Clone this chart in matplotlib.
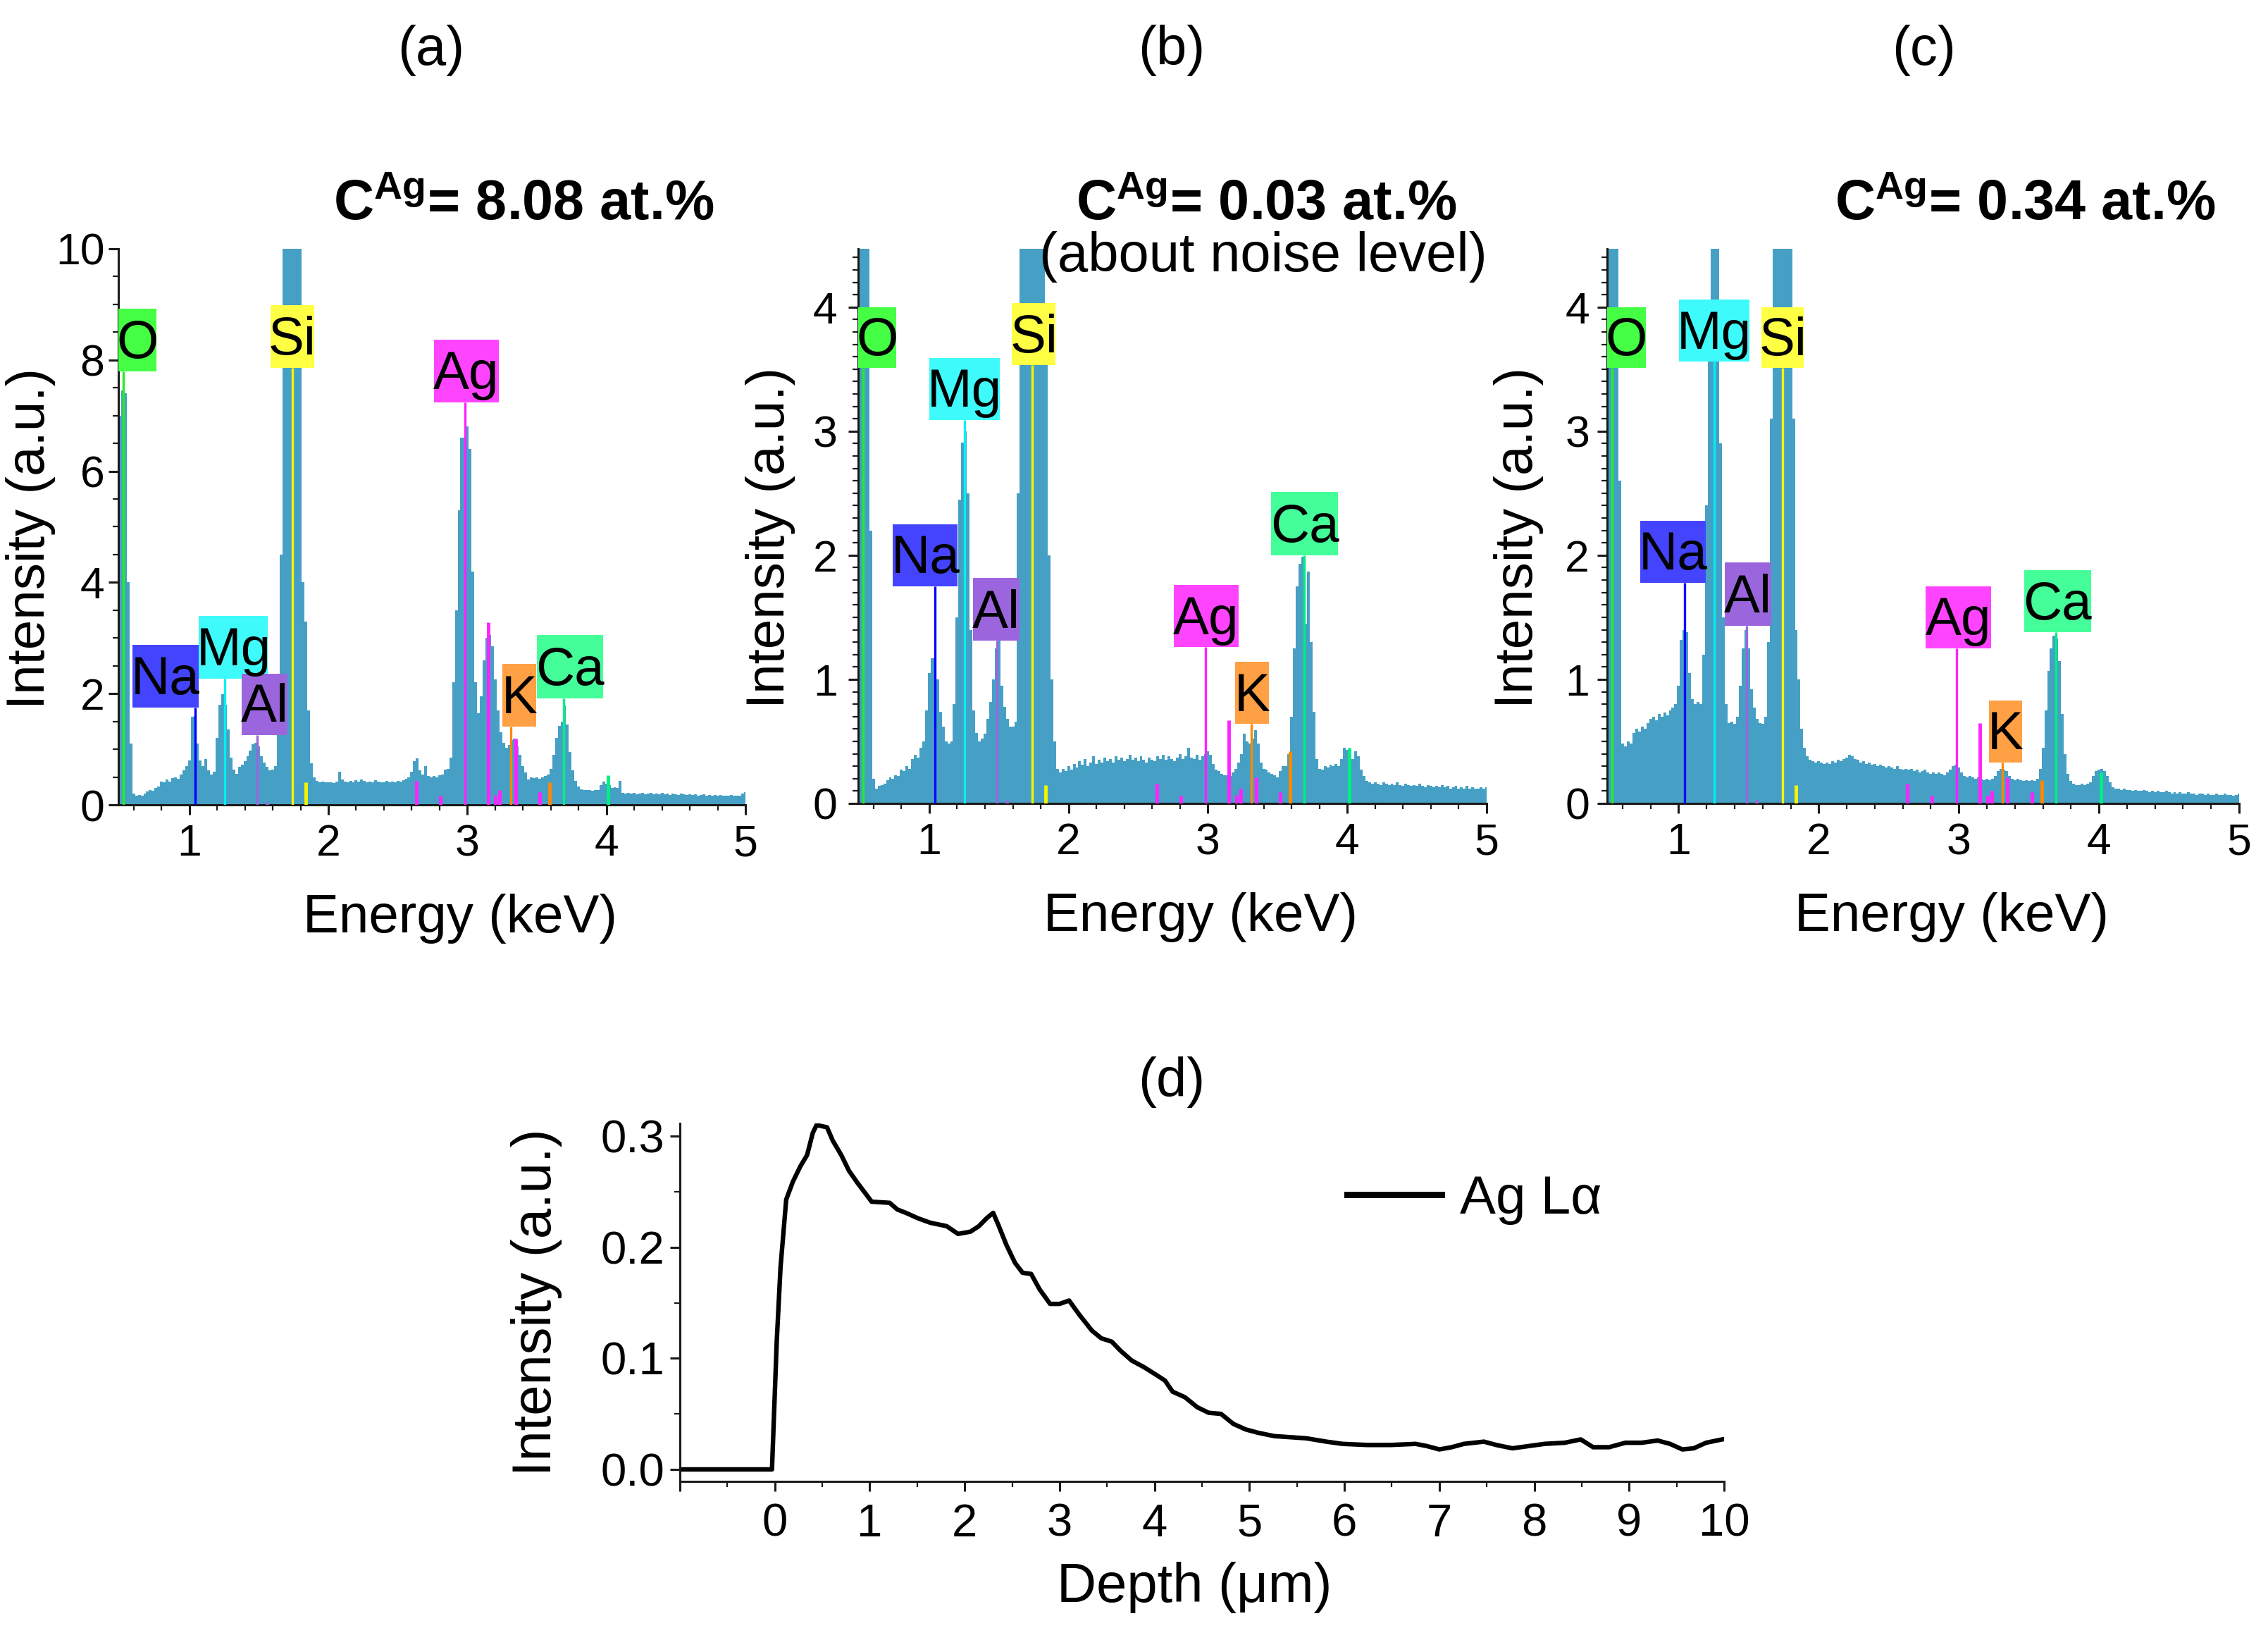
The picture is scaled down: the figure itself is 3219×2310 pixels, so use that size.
import numpy as np
import matplotlib
matplotlib.use('Agg')
import matplotlib.pyplot as plt
from matplotlib.patches import Rectangle
from matplotlib.ticker import MultipleLocator, FixedLocator, FuncFormatter

plt.rcParams['font.family'] = ['Liberation Sans', 'DejaVu Sans']
plt.rcParams['mathtext.fontset'] = 'custom'
plt.rcParams['mathtext.rm'] = 'Liberation Sans'
plt.rcParams['mathtext.bf'] = 'Liberation Sans:bold'
plt.rcParams['mathtext.it'] = 'Liberation Sans:italic'

# ---------------- data ----------------
E_START = 0.50   # keV, first channel
E_STEP = 0.02    # keV per channel

spec_a = [
    7.0, 7.45, 7.4, 4.0, 1.1, 0.2, 0.17, 0.18, 0.17, 0.2,
    0.24, 0.27, 0.25, 0.3, 0.33, 0.42, 0.4, 0.45, 0.42, 0.48,
    0.5, 0.47, 0.55, 0.62, 0.7, 0.8, 1.58, 1.6, 1.1, 0.8,
    0.7, 0.83, 0.62, 0.55, 0.6, 1.2, 1.8, 1.99, 1.8, 1.36,
    0.85, 0.63, 0.56, 0.68, 0.72, 0.78, 0.88, 0.98, 1.09, 1.12,
    1.05, 0.88, 0.76, 0.68, 0.62, 0.63, 0.7, 1.5, 4.5, 12,
    12, 12, 12, 12, 12, 12, 4.0, 3.3, 1.7, 0.75,
    0.5, 0.43, 0.4, 0.42, 0.4, 0.41, 0.4, 0.39, 0.42, 0.6,
    0.45, 0.42, 0.4, 0.43, 0.41, 0.44, 0.42, 0.45, 0.43, 0.4,
    0.42, 0.41, 0.44, 0.42, 0.4, 0.41, 0.43, 0.4, 0.42, 0.41,
    0.43, 0.42, 0.44, 0.47, 0.5, 0.6, 0.78, 0.84, 0.62, 0.55,
    0.7, 0.52, 0.5, 0.52, 0.5, 0.53, 0.55, 0.63, 0.65, 0.85,
    2.2, 3.5, 5.3, 6.6, 6.6, 6.8, 6.4, 4.2, 2.2, 1.65,
    1.95, 2.6, 3.0, 3.05, 2.85, 2.25, 1.7, 1.3, 1.12, 1.03,
    1.08, 1.16, 1.19, 1.05, 0.9, 0.7, 0.58, 0.45, 0.5, 0.48,
    0.5, 0.47, 0.5, 0.52, 0.55, 0.65, 0.9, 1.2, 1.42, 1.5,
    1.79, 1.45, 0.95, 0.62, 0.43, 0.33, 0.28, 0.27, 0.26, 0.27,
    0.25, 0.26, 0.27, 0.35, 0.42, 0.38, 0.36, 0.3, 0.32, 0.3,
    0.43, 0.22, 0.2, 0.21, 0.2, 0.21, 0.19, 0.2, 0.21, 0.19,
    0.2, 0.22, 0.19, 0.2, 0.19, 0.21, 0.19, 0.2, 0.18, 0.2,
    0.19, 0.18, 0.2, 0.19, 0.18, 0.19, 0.18, 0.19, 0.17, 0.18,
    0.19, 0.17, 0.18, 0.17, 0.18, 0.17, 0.18, 0.17, 0.16, 0.17,
    0.18, 0.17, 0.16, 0.17, 0.2, 0.23,
]

spec_b = [
    6, 6, 6, 6, 2.2, 0.2, 0.12, 0.14, 0.15, 0.16,
    0.19, 0.21, 0.2, 0.23, 0.22, 0.27, 0.26, 0.3, 0.28, 0.36,
    0.39, 0.37, 0.45, 0.5, 0.75, 1.05, 1.17, 1.17, 1.0, 0.74,
    0.62, 0.5, 0.48, 0.5, 0.8, 1.5, 2.45, 2.91, 3.0, 2.5,
    1.4, 0.75, 0.57, 0.5, 0.52, 0.56, 0.68, 0.82, 1.0, 1.25,
    1.31, 0.95, 0.78, 0.68, 0.62, 0.62, 0.66, 2.5, 6, 6,
    6, 6, 6, 6, 6, 6, 6, 3.6, 2.0, 1.0,
    0.5, 0.28, 0.25, 0.28, 0.26, 0.3, 0.27, 0.32, 0.29, 0.34,
    0.31, 0.36, 0.3, 0.33, 0.38, 0.32, 0.35, 0.33, 0.37, 0.34,
    0.36, 0.33, 0.38, 0.35, 0.37, 0.34, 0.36, 0.39, 0.35, 0.37,
    0.34, 0.38, 0.35, 0.33, 0.37, 0.35, 0.34, 0.38, 0.36, 0.39,
    0.35, 0.38, 0.36, 0.34, 0.37, 0.4, 0.36, 0.38, 0.45, 0.37,
    0.36, 0.39, 0.35, 0.38, 0.4, 0.42, 0.39, 0.32, 0.27, 0.26,
    0.24, 0.23, 0.23, 0.22, 0.25, 0.28, 0.33, 0.4, 0.56, 0.5,
    0.48, 0.52, 0.59, 0.48, 0.33, 0.28, 0.27, 0.25, 0.24, 0.23,
    0.21, 0.26, 0.3, 0.3, 0.4, 0.7, 1.25, 1.75, 1.93, 1.99,
    1.45, 1.87, 1.3, 0.74, 0.36, 0.28, 0.27, 0.3, 0.29, 0.31,
    0.3, 0.32, 0.3, 0.36, 0.45, 0.43, 0.42, 0.36, 0.42, 0.38,
    0.27, 0.22, 0.18, 0.17, 0.16, 0.17, 0.16, 0.15, 0.17, 0.16,
    0.15, 0.16, 0.15, 0.17, 0.15, 0.14, 0.16, 0.15, 0.14, 0.15,
    0.14, 0.16, 0.14, 0.13, 0.15, 0.14, 0.13, 0.14, 0.13, 0.15,
    0.13, 0.14, 0.12, 0.13, 0.14, 0.12, 0.13, 0.12, 0.14, 0.12,
    0.13, 0.12, 0.12, 0.13, 0.12, 0.13,
]

spec_c = [
    6, 6, 6, 6, 2.6, 0.48, 0.46, 0.5, 0.48, 0.57,
    0.6, 0.58, 0.62, 0.6, 0.65, 0.68, 0.7, 0.67, 0.72, 0.7,
    0.73, 0.71, 0.75, 0.77, 0.8, 0.95, 1.32, 1.4, 1.38, 1.05,
    0.84, 0.8, 0.82, 0.8, 1.2, 2.4, 4.0, 6, 6, 6,
    2.9, 1.5, 0.8, 0.65, 0.66, 0.64, 0.7, 0.95, 1.25, 1.4,
    1.25, 0.92, 0.77, 0.68, 0.65, 0.64, 0.7, 1.3, 3.1, 6,
    6, 6, 6, 6, 6, 6, 3.1, 1.4, 1.0, 0.6,
    0.45, 0.38, 0.35, 0.34, 0.33, 0.34, 0.33, 0.32, 0.33, 0.32,
    0.34, 0.33, 0.35, 0.34, 0.36, 0.37, 0.39, 0.38, 0.36, 0.35,
    0.33, 0.34, 0.32, 0.33, 0.31, 0.32, 0.3, 0.31, 0.3, 0.29,
    0.3, 0.29, 0.28, 0.3, 0.28, 0.27, 0.28, 0.27, 0.28, 0.26,
    0.27, 0.25, 0.26, 0.27, 0.25, 0.24, 0.25, 0.24, 0.25, 0.24,
    0.23, 0.25, 0.27, 0.3, 0.31, 0.29, 0.25, 0.22, 0.21, 0.22,
    0.21, 0.2, 0.21, 0.2, 0.19, 0.2, 0.19, 0.2, 0.22, 0.26,
    0.28, 0.27, 0.26, 0.22, 0.2, 0.19, 0.2, 0.19, 0.18, 0.19,
    0.18, 0.19, 0.18, 0.2, 0.28, 0.45, 0.75, 1.07, 1.25, 1.35,
    1.33, 1.15, 0.72, 0.4, 0.24, 0.18, 0.16, 0.15, 0.15, 0.16,
    0.15, 0.16, 0.17, 0.22, 0.26, 0.27, 0.28, 0.26, 0.22, 0.17,
    0.13, 0.12, 0.12, 0.11, 0.12, 0.11, 0.11, 0.1, 0.11, 0.1,
    0.1, 0.11, 0.1, 0.09, 0.1, 0.09, 0.1, 0.09, 0.09, 0.1,
    0.09, 0.08, 0.09, 0.08, 0.09, 0.08, 0.08, 0.09, 0.08, 0.08,
    0.07, 0.08, 0.08, 0.07, 0.08, 0.07, 0.07, 0.08, 0.07, 0.07,
    0.08, 0.07, 0.07, 0.06, 0.07, 0.08,
]

# labelled characteristic lines
elements = ['O', 'Na', 'Mg', 'Al', 'Si', 'Ag', 'K', 'Ca']
element_keV = [0.525, 1.041, 1.254, 1.487, 1.740, 2.984, 3.313, 3.691]

# unlabelled (secondary) lines and their heights per panel
minor_keV = [1.557, 1.836, 2.634, 2.806, 3.151, 3.203, 3.234, 3.348, 3.520, 3.590, 4.013]
minor_el = ['Al', 'Si', 'Ag', 'Ag', 'Ag', 'Ag', 'Ag', 'Ag', 'Ag', 'K', 'Ca']
minor_h_a = [0.05, 0.4, 0.43, 0.17, 3.28, 0.18, 0.26, 1.19, 0.23, 0.4, 0.53]
minor_h_b = [0.03, 0.15, 0.16, 0.06, 0.67, 0.07, 0.12, 0.21, 0.09, 0.42, 0.45]
minor_h_c = [0.03, 0.15, 0.16, 0.06, 0.65, 0.06, 0.10, 0.21, 0.09, 0.19, 0.25]

conc_labels = ['8.08', '0.03', '0.34']

# depth profile (d)
depth_um = [-1.0, -0.03, 0.02, 0.06, 0.12, 0.19, 0.27, 0.34, 0.40, 0.44, 0.55, 0.61,
            0.70, 0.78, 0.87, 0.95, 1.02, 1.21, 1.29, 1.38, 1.51, 1.64, 1.81, 1.93,
            2.06, 2.15, 2.23, 2.30, 2.36, 2.44, 2.53, 2.61, 2.70, 2.79, 2.90, 3.00,
            3.10, 3.21, 3.34, 3.44, 3.55, 3.64, 3.76, 3.89, 4.02, 4.11, 4.19, 4.32,
            4.45, 4.57, 4.70, 4.83, 4.96, 5.09, 5.26, 5.43, 5.60, 5.81, 5.98, 6.24,
            6.49, 6.75, 6.87, 7.00, 7.13, 7.26, 7.47, 7.60, 7.77, 7.94, 8.11, 8.32,
            8.49, 8.62, 8.79, 8.96, 9.13, 9.30, 9.43, 9.56, 9.68, 9.81, 9.98]
ag_la = [0.0, 0.0, 0.115, 0.182, 0.243, 0.259, 0.273, 0.283, 0.303, 0.310, 0.308, 0.296,
         0.283, 0.269, 0.258, 0.249, 0.241, 0.240, 0.234, 0.231, 0.226, 0.222, 0.219, 0.212,
         0.214, 0.219, 0.226, 0.231, 0.219, 0.202, 0.186, 0.177, 0.176, 0.162, 0.149, 0.149,
         0.152, 0.139, 0.125, 0.118, 0.115, 0.107, 0.098, 0.092, 0.085, 0.080, 0.070, 0.065,
         0.056, 0.051, 0.050, 0.041, 0.036, 0.033, 0.030, 0.029, 0.028, 0.025, 0.023, 0.022,
         0.022, 0.023, 0.021, 0.018, 0.020, 0.023, 0.025, 0.022, 0.019, 0.021, 0.023, 0.024,
         0.027, 0.020, 0.020, 0.024, 0.024, 0.026, 0.023, 0.018, 0.019, 0.024, 0.027]

# ---------------- styles ----------------
SPEC_COLOR = '#46A0C5'
box_color = {'O': '#44FF44', 'Na': '#4444FF', 'Mg': '#3EFAFA', 'Al': '#9B66DD',
             'Si': '#FFFF44', 'Ag': '#FF44FF', 'K': '#FFA045', 'Ca': '#44FF99'}
line_color = {'O': '#22EE22', 'Na': '#0000FF', 'Mg': '#00F0F0', 'Al': '#9B66DD',
              'Si': '#F5F500', 'Ag': '#FF22FF', 'K': '#FF8800', 'Ca': '#00F080'}

# label boxes (x0, x1, y0, y1) in data units, per panel
boxes_a = {'O': (0.488, 0.766, 7.80, 8.92), 'Si': (1.583, 1.899, 7.86, 8.99),
           'Na': (0.593, 1.066, 1.75, 2.88), 'Mg': (1.070, 1.566, 2.27, 3.40),
           'Al': (1.376, 1.706, 1.26, 2.36), 'Ag': (2.758, 3.224, 7.24, 8.36),
           'K': (3.252, 3.495, 1.41, 2.54), 'Ca': (3.498, 3.977, 1.92, 3.05)}
boxes_b = {'O': (0.491, 0.765, 3.51, 4.00), 'Si': (1.592, 1.907, 3.53, 4.03),
           'Na': (0.738, 1.204, 1.75, 2.25), 'Mg': (1.001, 1.508, 3.09, 3.59),
           'Al': (1.315, 1.646, 1.31, 1.82), 'Ag': (2.754, 3.219, 1.26, 1.76),
           'K': (3.194, 3.439, 0.64, 1.14), 'Ca': (3.454, 3.932, 2.00, 2.51)}
boxes_c = {'O': (0.489, 0.767, 3.51, 4.00), 'Si': (1.593, 1.894, 3.51, 4.00),
           'Na': (0.725, 1.192, 1.78, 2.28), 'Mg': (1.002, 1.507, 3.56, 4.06),
           'Al': (1.330, 1.660, 1.43, 1.94), 'Ag': (2.762, 3.228, 1.25, 1.75),
           'K': (3.216, 3.449, 0.33, 0.83), 'Ca': (3.467, 3.943, 1.38, 1.88)}

W, H = 3219, 2310
fig = plt.figure(figsize=(W / 100, H / 100), dpi=100)


def fig_rect(left, right, top, bottom):
    return [left / W, 1 - bottom / H, (right - left) / W, (bottom - top) / H]


SPINE = '#1a1a1a'


def style(ax, labelsize, ypad):
    for s in ['top', 'right']:
        ax.spines[s].set_visible(False)
    for s in ['left', 'bottom']:
        ax.spines[s].set_linewidth(2.2)
        ax.spines[s].set_color(SPINE)
    ax.tick_params(which='major', direction='out', length=10, width=2.2,
                   labelsize=labelsize, color=SPINE)
    ax.tick_params(which='minor', direction='out', length=5.5, width=1.6, color=SPINE)
    ax.tick_params(axis='y', which='major', pad=ypad)
    ax.tick_params(axis='x', which='major', pad=9)


def draw_spectrum(ax, intensity, boxes, minor_h, ymax, ymajor, yminor, ypad):
    n = len(intensity)
    edges = E_START - E_STEP / 2 + E_STEP * np.arange(n + 1)
    ax.stairs(intensity, edges, baseline=0, fill=True, color=SPEC_COLOR,
              linewidth=0, zorder=1)
    for e, el, h in zip(minor_keV, minor_el, minor_h):
        ax.vlines(e, 0, h, colors=line_color[el], linewidth=3.5, zorder=3)
    for el, e in zip(elements, element_keV):
        x0, x1, y0, y1 = boxes[el]
        ax.vlines(e, 0, y0, colors=line_color[el], linewidth=2.4, zorder=3)
        ax.add_patch(Rectangle((x0, y0), x1 - x0, y1 - y0, facecolor=box_color[el],
                               edgecolor='none', zorder=4))
        ax.text((x0 + x1) / 2, y0 + 0.21 * (y1 - y0), el, ha='center', va='baseline',
                fontsize=55, color='black', zorder=5)
    ax.set_xlim(0.49, 5.0)
    ax.set_ylim(0, ymax)
    ax.xaxis.set_major_locator(FixedLocator([1, 2, 3, 4, 5]))
    ax.xaxis.set_minor_locator(MultipleLocator(0.2))
    ax.yaxis.set_major_locator(MultipleLocator(ymajor))
    ax.yaxis.set_minor_locator(MultipleLocator(yminor))
    style(ax, 45, ypad)
    ax.set_xlabel('Energy (keV)', fontsize=55)
    ax.xaxis.set_label_coords(0.545, -0.16)
    ax.set_ylabel('Intensity (a.u.)', fontsize=55)
    ax.yaxis.set_label_coords(-0.100, 0.479)


ax_a = fig.add_axes(fig_rect(168, 1058, 353, 1142))
draw_spectrum(ax_a, spec_a, boxes_a, minor_h_a, 10.0, 2, 0.5, 4)
ax_b = fig.add_axes(fig_rect(1218, 2110, 353, 1140))
draw_spectrum(ax_b, spec_b, boxes_b, minor_h_b, 4.47, 1, 0.1, 11)
ax_c = fig.add_axes(fig_rect(2281, 3178, 353, 1140))
draw_spectrum(ax_c, spec_c, boxes_c, minor_h_c, 4.47, 1, 0.1, 8)

# panel titles
for x, lab in [(612, '(a)'), (1663, '(b)'), (2731, '(c)')]:
    fig.text(x / W, 1 - 72 / H, lab, ha='center', va='center', fontsize=56)
fig.text(1663 / W, 1 - 1536 / H, '(d)', ha='center', va='center', fontsize=56)

for x, c in zip([743, 1797, 2874], conc_labels):
    fig.text(x / W, 1 - 312 / H, r'C$^{\mathbf{Ag}}$= ' + c + ' at.%', ha='center',
             va='baseline', fontsize=57, fontweight='bold')
fig.text(1793 / W, 1 - 385 / H, '(about noise level)', ha='center', va='baseline',
         fontsize=56)

# panel (d)
ax_d = fig.add_axes(fig_rect(965, 2447, 1594, 2102))
ax_d.plot(depth_um, ag_la, color='black', linewidth=4.6, label='Ag L\u03b1',
          solid_joinstyle='round')
ax_d.set_xlim(-1, 10)
ax_d.set_ylim(-0.0108, 0.3115)
ax_d.xaxis.set_major_locator(FixedLocator(list(range(-1, 11))))
ax_d.xaxis.set_major_formatter(FuncFormatter(lambda v, p: '' if v < -0.5 else f'{int(round(v))}'))
ax_d.xaxis.set_minor_locator(MultipleLocator(0.5))
ax_d.yaxis.set_major_locator(FixedLocator([0.0, 0.1, 0.2, 0.3]))
ax_d.yaxis.set_major_formatter(FuncFormatter(lambda v, p: f'{v:.1f}'))
ax_d.yaxis.set_minor_locator(MultipleLocator(0.05))
style(ax_d, 47, 6)
ax_d.tick_params(axis='x', which='major', pad=12)
ax_d.set_xlabel('Depth (\u03bcm)', fontsize=56)
ax_d.xaxis.set_label_coords(0.493, -0.225)
ax_d.set_ylabel('Intensity (a.u.)', fontsize=56)
ax_d.yaxis.set_label_coords(-0.113, 0.5)
leg = ax_d.legend(loc='center left', bbox_to_anchor=(0.639, 0.787), frameon=False,
                  fontsize=55, handlelength=1.75, handletextpad=0.35, borderpad=0,
                  borderaxespad=0)
for h in leg.get_lines():
    h.set_linewidth(6.5)

fig.savefig('out.png', dpi=100)
